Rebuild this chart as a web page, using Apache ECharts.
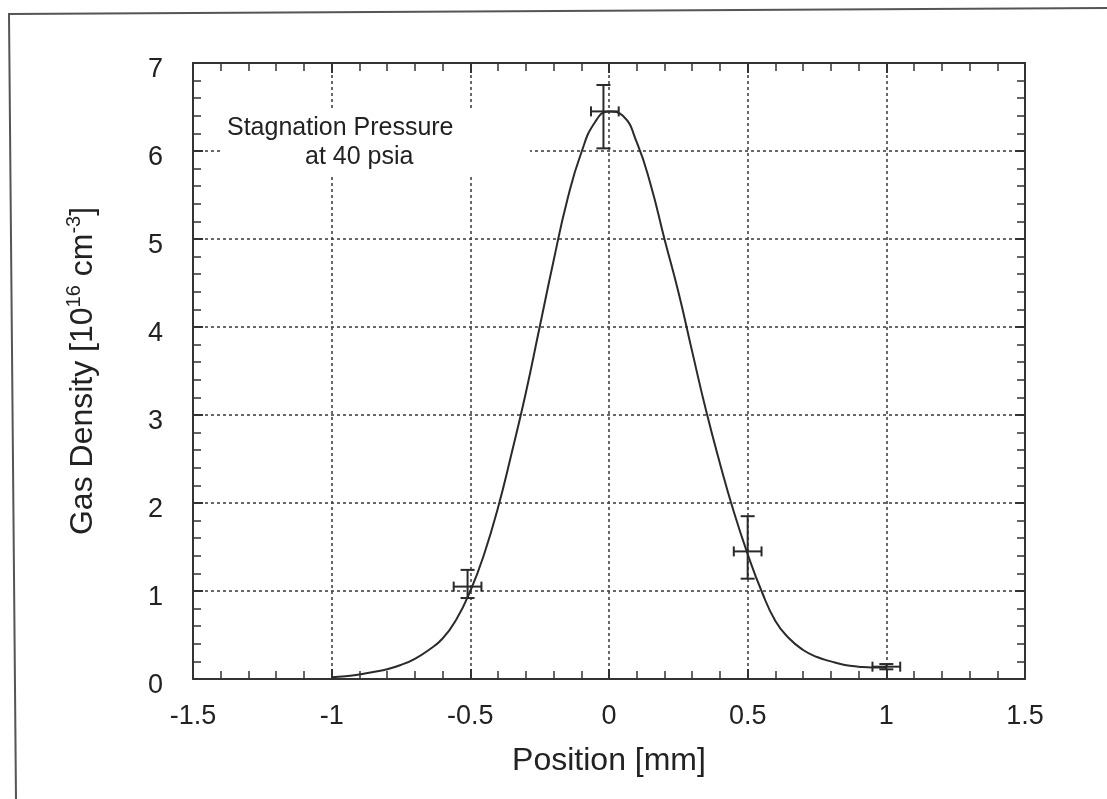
<!DOCTYPE html>
<html>
<head>
<meta charset="utf-8">
<script src="https://cdn.jsdelivr.net/npm/echarts@6/dist/echarts.min.js"></script>
<style>
html,body{margin:0;padding:0;background:#fff;}
#chart{width:1107px;height:799px;}
</style>
</head>
<body>
<div id="chart"></div>
<script>
// ---- data ----
const xTicks = [-1.5, -1, -0.5, 0, 0.5, 1, 1.5];
const yTicks = [0, 1, 2, 3, 4, 5, 6, 7];

// fitted curve (read at 0.05 mm steps)
const curveX = [-1.0,-0.95,-0.9,-0.85,-0.8,-0.75,-0.7,-0.65,-0.6,-0.55,-0.5,-0.45,-0.4,-0.35,-0.3,-0.25,-0.2,-0.15,-0.1,-0.05,0,0.05,0.1,0.15,0.2,0.25,0.3,0.35,0.4,0.45,0.5,0.55,0.6,0.65,0.7,0.75,0.8,0.85,0.9,0.95,1.0];
const curveY = [0.02,0.03,0.05,0.08,0.11,0.16,0.23,0.33,0.46,0.68,1.0,1.42,1.95,2.58,3.25,4.0,4.75,5.45,5.98,6.33,6.45,6.4,6.1,5.62,5.0,4.4,3.72,3.05,2.45,1.9,1.42,1.0,0.66,0.46,0.33,0.25,0.2,0.16,0.14,0.13,0.13];

// measured points with error bars
const pointX = [-0.51, -0.02, 0.5, 1.0];
const pointY = [1.05, 6.45, 1.45, 0.14];
const xLow   = [-0.56, -0.065, 0.45, 0.95];
const xHigh  = [-0.46, 0.035, 0.55, 1.05];
const yLow   = [0.92, 6.03, 1.14, 0.11];
const yHigh  = [1.24, 6.75, 1.85, 0.17];

const annotation1 = 'Stagnation Pressure';
const annotation2 = 'at 40 psia';

// ---- build chart ----
const FONT = '"Liberation Sans", Arial, Helvetica, sans-serif';
const INK = '#222';
const curveData = curveX.map((x, i) => [x, curveY[i]]);
const errData = pointX.map((x, i) => [x, pointY[i], xLow[i], xHigh[i], yLow[i], yHigh[i]]);

const xMin = xTicks[0], xMax = xTicks[xTicks.length - 1], xInt = xTicks[1] - xTicks[0];
const yMin = yTicks[0], yMax = yTicks[yTicks.length - 1], yInt = yTicks[1] - yTicks[0];

const lineStyleAxis = { color: '#333', width: 2 };

function mirrorAxis(pos) {
  return {
    type: 'value', position: pos, min: pos === 'top' ? xMin : yMin, max: pos === 'top' ? xMax : yMax,
    interval: pos === 'top' ? xInt : yInt,
    axisLine: { show: true, onZero: false, lineStyle: lineStyleAxis },
    axisTick: { show: true, inside: true, length: 10, lineStyle: { color: '#333', width: 2 } },
    minorTick: { show: true, splitNumber: 5, length: 8, lineStyle: { color: '#333', width: 1.5 } },
    axisLabel: { show: false },
    splitLine: { show: false }
  };
}

const chart = echarts.init(document.getElementById('chart'), null, { renderer: 'canvas' });
chart.setOption({
  backgroundColor: '#fff',
  animation: false,
  grid: { left: 193, right: 82, top: 63, bottom: 120, outerBoundsMode: 'none', containLabel: false },
  xAxis: [{
    type: 'value', min: xMin, max: xMax, interval: xInt,
    name: 'Position [mm]', nameLocation: 'middle', nameGap: 66,
    nameTextStyle: { fontFamily: FONT, fontSize: 32, color: INK },
    axisLine: { show: true, onZero: false, lineStyle: lineStyleAxis },
    axisTick: { show: true, inside: true, length: 10, lineStyle: { color: '#333', width: 2 } },
    minorTick: { show: true, splitNumber: 5, length: 8, lineStyle: { color: '#333', width: 1.5 } },
    axisLabel: { fontFamily: FONT, fontSize: 27, color: INK, margin: 24 },
    splitLine: { show: true, lineStyle: { color: '#444', width: 1.6, type: [3, 3] } }
  }, mirrorAxis('top')],
  yAxis: [{
    type: 'value', min: yMin, max: yMax, interval: yInt,
    name: '{t|Gas Density [10}{s|16}{t| cm}{s|-3}{t|]}', nameLocation: 'middle', nameGap: 91,
    nameTextStyle: {
      fontFamily: FONT, fontSize: 32, color: INK,
      rich: {
        t: { fontFamily: FONT, fontSize: 32, color: INK },
        s: { fontFamily: FONT, fontSize: 20, color: INK, padding: [0, 0, 18, 0] }
      }
    },
    axisLine: { show: true, onZero: false, lineStyle: lineStyleAxis },
    axisTick: { show: true, inside: true, length: 10, lineStyle: { color: '#333', width: 2 } },
    minorTick: { show: true, splitNumber: 5, length: 8, lineStyle: { color: '#333', width: 1.5 } },
    axisLabel: { fontFamily: FONT, fontSize: 27, color: INK, margin: 30, verticalAlign: 'top', lineHeight: 14 },
    splitLine: { show: true, lineStyle: { color: '#444', width: 1.6, type: [3, 3] } }
  }, mirrorAxis('right')],
  series: [{
    type: 'line', data: curveData, xAxisIndex: 0, yAxisIndex: 0,
    smooth: 0.5, showSymbol: false, symbol: 'none',
    lineStyle: { color: '#2a2a2a', width: 2 }, z: 3
  }, {
    type: 'custom', xAxisIndex: 0, yAxisIndex: 0, data: errData,
    encode: { x: [0, 2, 3], y: [1, 4, 5] }, z: 4,
    renderItem: function (params, api) {
      const c = api.coord([api.value(0), api.value(1)]);
      const xl = api.coord([api.value(2), api.value(1)]);
      const xh = api.coord([api.value(3), api.value(1)]);
      const yl = api.coord([api.value(0), api.value(4)]);
      const yh = api.coord([api.value(0), api.value(5)]);
      const st = { stroke: '#2a2a2a', lineWidth: 2 };
      const cw = 7, ch = 5;
      return {
        type: 'group',
        children: [
          { type: 'line', shape: { x1: c[0], y1: yl[1], x2: c[0], y2: yh[1] }, style: st },
          { type: 'line', shape: { x1: c[0] - cw, y1: yl[1], x2: c[0] + cw, y2: yl[1] }, style: st },
          { type: 'line', shape: { x1: c[0] - cw, y1: yh[1], x2: c[0] + cw, y2: yh[1] }, style: st },
          { type: 'line', shape: { x1: xl[0], y1: c[1], x2: xh[0], y2: c[1] }, style: st },
          { type: 'line', shape: { x1: xl[0], y1: c[1] - ch, x2: xl[0], y2: c[1] + ch }, style: st },
          { type: 'line', shape: { x1: xh[0], y1: c[1] - ch, x2: xh[0], y2: c[1] + ch }, style: st }
        ]
      };
    }
  }],
  graphic: [
    { type: 'polyline', z: 10, shape: { points: [[16, 799], [9, 14], [1107, 8]] }, style: { stroke: '#555', lineWidth: 2, fill: null } },
    { type: 'rect', z: 1, shape: { x: 223, y: 110, width: 307, height: 67 }, style: { fill: '#fff' } },
    { type: 'text', z: 5, x: 227, y: 128, style: { text: annotation1, font: '25px ' + FONT, fill: INK, textVerticalAlign: 'middle', verticalAlign: 'middle' } },
    { type: 'text', z: 5, x: 305, y: 157, style: { text: annotation2, font: '25px ' + FONT, fill: INK, textVerticalAlign: 'middle', verticalAlign: 'middle' } }
  ]
});
</script>
</body>
</html>
